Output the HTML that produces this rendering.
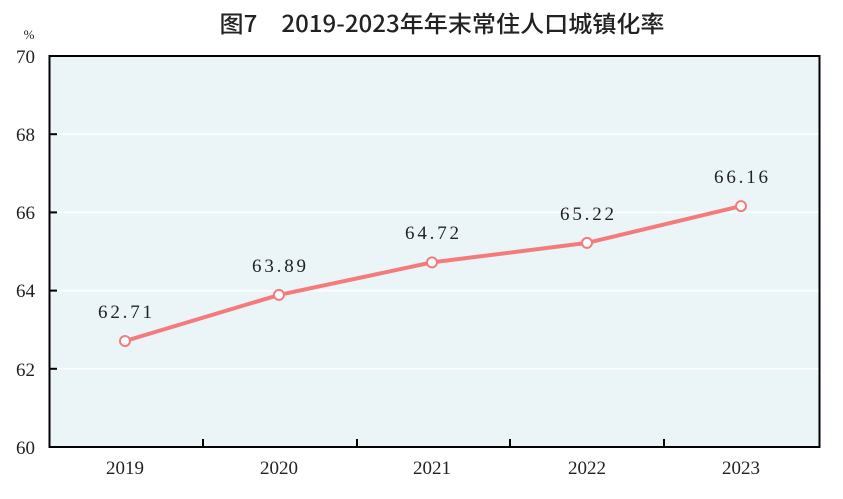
<!DOCTYPE html>
<html><head><meta charset="utf-8"><style>body{margin:0;background:#fff}</style></head><body>
<svg width="843" height="494" viewBox="0 0 843 494" xmlns="http://www.w3.org/2000/svg">
<text x="442" y="32" text-anchor="middle" font-family="'Noto Sans CJK SC',sans-serif" font-size="23" font-weight="500" fill="#222" textLength="445" lengthAdjust="spacingAndGlyphs">图7　2019-2023年年末常住人口城镇化率</text>
<rect x="49.5" y="56" width="770" height="391" fill="#ebf5f8"/>
<g stroke="#fff" stroke-width="1.5">
<line x1="50" x2="819" y1="134.2" y2="134.2"/><line x1="50" x2="819" y1="212.4" y2="212.4"/><line x1="50" x2="819" y1="290.6" y2="290.6"/><line x1="50" x2="819" y1="368.8" y2="368.8"/>
</g>
<rect x="49.5" y="56" width="770" height="391" fill="none" stroke="#000" stroke-width="2"/>
<g stroke="#000" stroke-width="2">
<line x1="50" x2="57" y1="134.2" y2="134.2"/><line x1="50" x2="57" y1="212.4" y2="212.4"/><line x1="50" x2="57" y1="290.6" y2="290.6"/><line x1="50" x2="57" y1="368.8" y2="368.8"/>
<line x1="203" x2="203" y1="439" y2="447"/><line x1="357" x2="357" y1="439" y2="447"/><line x1="510" x2="510" y1="439" y2="447"/><line x1="664" x2="664" y1="439" y2="447"/>
</g>
<g font-family="'Liberation Serif',serif" font-size="19" fill="#222" text-anchor="end">
<text x="35" y="63">70</text><text x="35" y="141">68</text><text x="35" y="219">66</text><text x="35" y="297">64</text><text x="35" y="376">62</text><text x="35" y="454">60</text>
</g>
<text x="29" y="39" font-family="'Liberation Serif',serif" font-size="13" fill="#222" text-anchor="middle">%</text>
<g font-family="'Liberation Serif',serif" font-size="19" fill="#222" text-anchor="middle">
<text x="125" y="474">2019</text><text x="279" y="474">2020</text><text x="432" y="474">2021</text><text x="587" y="474">2022</text><text x="741" y="474">2023</text>
</g>
<polyline points="125,341 279,294.9 432,262.4 587,242.9 741,206.1" fill="none" stroke="#f47b7b" stroke-width="4"/>
<g fill="#fff" stroke="#f47b7b" stroke-width="2">
<circle cx="125" cy="341" r="5"/><circle cx="279" cy="294.9" r="5"/><circle cx="432" cy="262.4" r="5"/><circle cx="587" cy="242.9" r="5"/><circle cx="741" cy="206.1" r="5"/>
</g>
<g font-family="'Liberation Serif',serif" font-size="19" fill="#222" text-anchor="middle">
<text x="125" y="318" textLength="54">62.71</text><text x="279" y="272" textLength="54">63.89</text><text x="432" y="239" textLength="54">64.72</text><text x="587" y="220" textLength="54">65.22</text><text x="741" y="183" textLength="54">66.16</text>
</g>
</svg>
</body></html>
